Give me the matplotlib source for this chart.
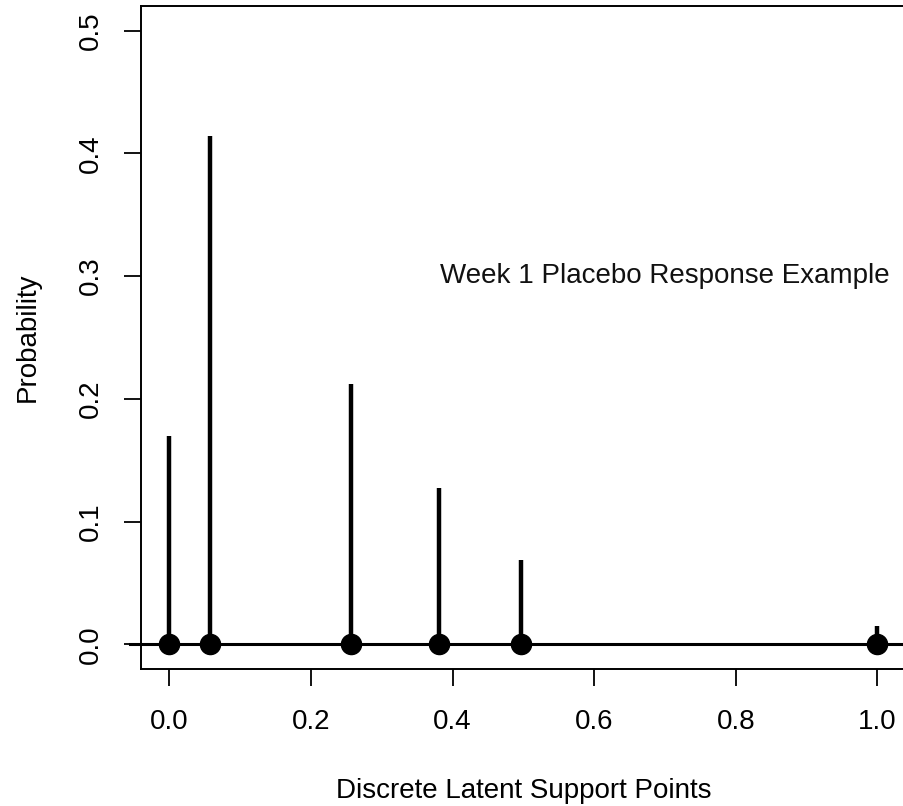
import matplotlib
matplotlib.use("Agg")
import matplotlib.pyplot as plt

plt.rcParams['font.family'] = ['Liberation Sans', 'DejaVu Sans']

# support points and their probabilities
support = [0.0, 0.058, 0.257, 0.381, 0.497, 1.0]
prob = [0.170, 0.414, 0.212, 0.127, 0.069, 0.015]

xticks = [0.0, 0.2, 0.4, 0.6, 0.8, 1.0]
yticks = [0.0, 0.1, 0.2, 0.3, 0.4, 0.5]

fig = plt.figure(figsize=(9.04, 8.06), dpi=100)
ax = fig.add_axes([0.156, 0.170, 0.846, 0.8226])

ax.set_xlim(-0.04, 1.04)
ax.set_ylim(-0.02, 0.52)

# baseline at zero, runs slightly past the left frame
ax.plot([-0.056, 1.1], [0, 0], color='black', lw=2.2, clip_on=False, zorder=2)
ax.vlines(support, 0, prob, color='black', lw=3.2, zorder=3)
ax.plot(support, [0] * len(support), 'o', color='black', ms=14.5, zorder=4, clip_on=False)

ax.text(0.7, 0.3, 'Week 1 Placebo Response Example', fontsize=20,
        ha='center', va='center', color='#111111')

ax.set_xticks(xticks)
ax.set_xticklabels([f'{t:.1f}' for t in xticks])
ax.set_yticks(yticks)
ax.set_yticklabels([f'{t:.1f}' for t in yticks], rotation=90, va='center')
ax.tick_params(direction='out', length=12.5, width=1.3, labelsize=20, pad=14)
ax.tick_params(axis='x', pad=16)

for s in ax.spines.values():
    s.set_linewidth(1.4)

ax.set_xlabel('Discrete Latent Support Points', fontsize=20, labelpad=31)
ax.set_ylabel('Probability', fontsize=20, labelpad=27)

fig.savefig('out.png', dpi=100)
